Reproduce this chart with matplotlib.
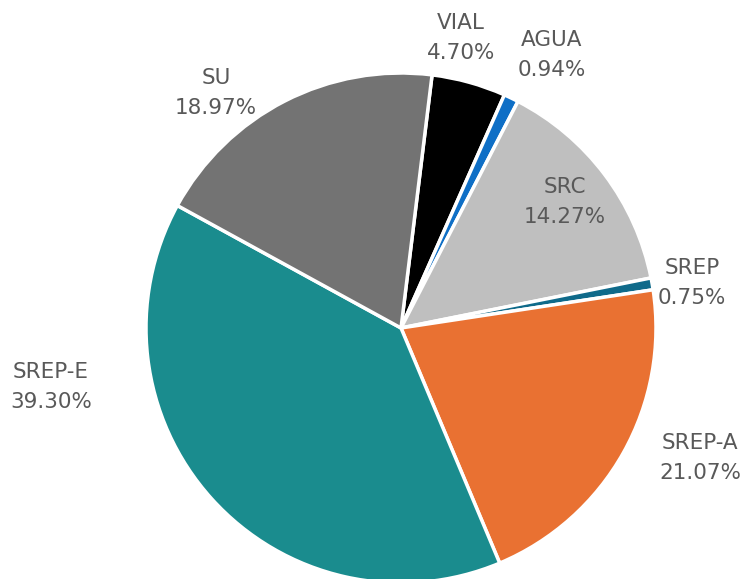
import matplotlib
matplotlib.use('Agg')
import matplotlib.pyplot as plt

# land use shares (%)
labels = ['VIAL', 'AGUA', 'SRC', 'SREP', 'SREP-A', 'SREP-E', 'SU']
shares = [4.70, 0.94, 14.27, 0.75, 21.07, 39.30, 18.97]
colors = ['#000000', '#0F6FC6', '#BFBFBF', '#0F6A8A', '#E97132', '#1A8C8E', '#737373']

# label anchor points (pixel coords, y measured from top)
label_pos = [(461, 38), (552, 55), (565, 202), (692, 283), (700, 458), (51, 387), (216, 93)]

W, H = 744, 579
fig = plt.figure(figsize=(W / 100, H / 100), dpi=100)
ax = fig.add_axes([0, 0, 1, 1])
ax.set_xlim(0, W)
ax.set_ylim(0, H)
ax.set_aspect('equal')
ax.axis('off')

ax.pie(shares, colors=colors, startangle=83, counterclock=False,
       center=(401, H - 328), radius=255,
       wedgeprops=dict(edgecolor='white', linewidth=2.5))

for name, val, (x, y) in zip(labels, shares, label_pos):
    ax.text(x, H - y + 15, name, ha='center', va='center', fontsize=15.5, color='#595959')
    ax.text(x, H - y - 15, f'{val:.2f}%', ha='center', va='center', fontsize=15.5, color='#595959')

ax.set_xlim(0, W)
ax.set_ylim(0, H)
fig.savefig('out.png', dpi=100)
